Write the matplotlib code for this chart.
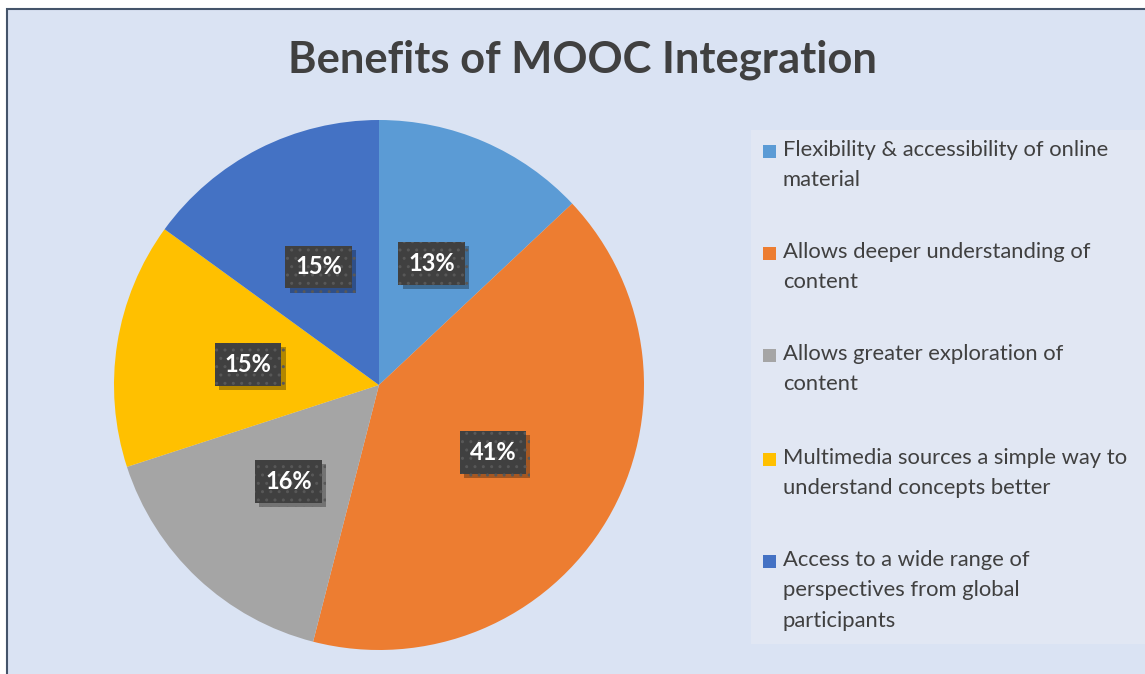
import matplotlib
matplotlib.use("Agg")
import matplotlib.pyplot as plt
from matplotlib.patches import Rectangle
import matplotlib.patheffects as pe

plt.rcParams['font.family'] = ['Lato', 'DejaVu Sans']

categories = [
    "Flexibility & accessibility of online\nmaterial",
    "Allows deeper understanding of\ncontent",
    "Allows greater exploration of\ncontent",
    "Multimedia sources a simple way to\nunderstand concepts better",
    "Access to a wide range of\nperspectives from global\nparticipants",
]
values = [13, 41, 16, 15, 15]
colors = ["#5B9BD5", "#ED7D31", "#A5A5A5", "#FFC000", "#4472C4"]
title = "Benefits of MOOC Integration"

W, H = 1145, 674
fig = plt.figure(figsize=(W / 100, H / 100), dpi=100, facecolor="white")

def fx(px):
    return px / W

def fy(py):
    return 1 - py / H

# chart area background with border
fig.patches.append(Rectangle((fx(6.5), fy(H + 10)), fx(W + 20), fy(8.5) - fy(H + 10),
                             transform=fig.transFigure, facecolor="#DAE3F3",
                             edgecolor="#44546A", linewidth=1.5, zorder=0))

# legend area background
fig.patches.append(Rectangle((fx(751), fy(644)), fx(W - 751 + 5), fy(130) - fy(644),
                             transform=fig.transFigure, facecolor="#E1E7F3",
                             edgecolor="none", zorder=0.5))

cx, cy, r = 379, 385, 265
ax = fig.add_axes([fx(cx - r), fy(cy + r), fx(2 * r), fy(cy - r) - fy(cy + r)])
ax.set_zorder(3)
ax.set_facecolor("none")
wedges, texts, autotexts = ax.pie(values, colors=colors, startangle=90, counterclock=False,
                                  autopct="%1.0f%%", pctdistance=0.5, radius=1,
                                  wedgeprops=dict(linewidth=0),
                                  textprops=dict(color="white", fontsize=17, fontweight="bold"))
ax.set_xlim(-1, 1)
ax.set_ylim(-1, 1)
ax.set_aspect("equal")
ax.axis("off")

for t in autotexts:
    t.set_bbox(dict(boxstyle="square,pad=0.42", facecolor="#404040", edgecolor="#585858",
                    linewidth=0, hatch=".."))
    t.get_bbox_patch().set_path_effects([pe.withSimplePatchShadow(offset=(3, -3), shadow_rgbFace="black", alpha=0.3)])

fig.text(0.5 + fx(10), fy(60), title, ha="center", va="center", fontsize=31.3,
         fontweight="bold", color="#404040", zorder=4)

# legend
ys = [151, 253, 355, 459, 561]
for lab, col, y in zip(categories, colors, ys):
    fig.patches.append(Rectangle((fx(763), fy(y + 7)), fx(13), fy(y - 6) - fy(y + 7),
                                 transform=fig.transFigure, facecolor=col, edgecolor="none",
                                 zorder=2))
    fig.text(fx(783), fy(y - 11), lab, ha="left", va="top", fontsize=15.8, color="#404040",
             linespacing=1.65, zorder=4)

fig.savefig("out.png", dpi=100, facecolor="white")
